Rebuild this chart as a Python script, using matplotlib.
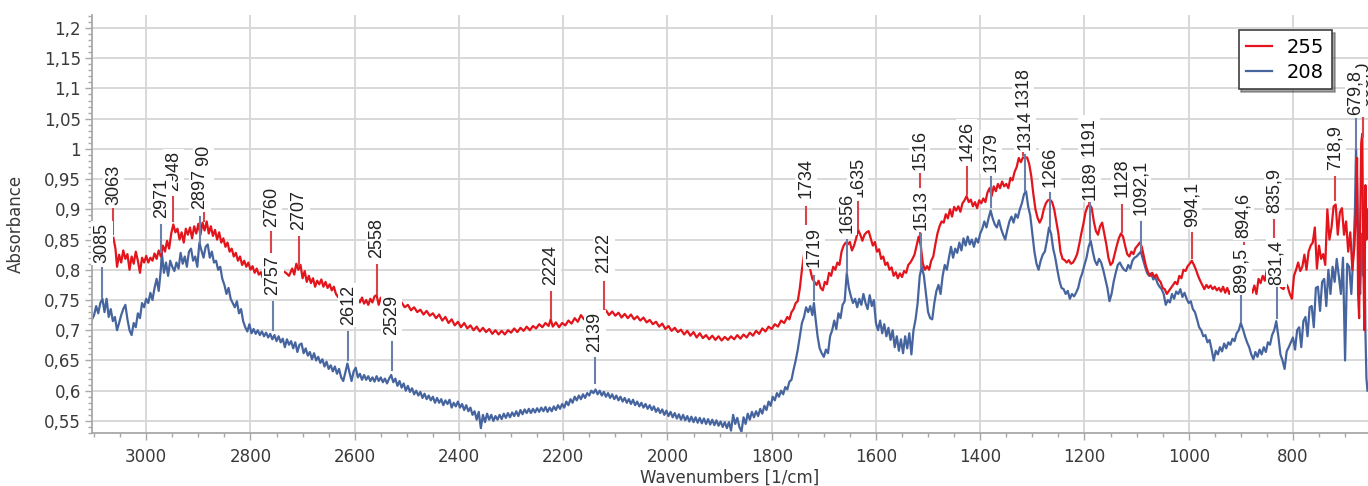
import matplotlib
matplotlib.use('Agg')
import matplotlib.pyplot as plt
from matplotlib.ticker import MultipleLocator, FuncFormatter

# =====================================
# FTIR spectra: samples 255 and 208
# =====================================

# --- sample 255 (red) ---
wn_255 = [
    3063, 3059, 3056, 3052, 3048, 3044, 3040, 3036, 3032, 3028,
    3024, 3020, 3016, 3012, 3008, 3004, 3000, 2996, 2992, 2988,
    2984, 2980, 2976, 2972, 2968, 2964, 2960, 2956, 2952, 2948,
    2944, 2940, 2936, 2932, 2928, 2924, 2920, 2916, 2912, 2908,
    2904, 2900, 2896, 2892, 2888, 2884, 2880, 2876, 2872, 2868,
    2864, 2860, 2856, 2852, 2848, 2844, 2840, 2836, 2832, 2828,
    2824, 2820, 2816, 2812, 2808, 2804, 2800, 2796, 2792, 2788,
    2784, 2780, 2776, 2772, 2768, 2764, 2760, 2756, 2750, 2744,
    2738, 2732, 2726, 2720, 2716, 2712, 2708, 2704, 2700, 2696,
    2692, 2688, 2684, 2680, 2676, 2672, 2668, 2664, 2660, 2656,
    2652, 2648, 2644, 2640, 2636, 2632, 2628, 2620, 2612, 2604,
    2598, 2594, 2590, 2586, 2582, 2578, 2574, 2570, 2566, 2562,
    2558, 2554, 2550, 2546, 2540, 2532, 2524, 2516, 2510, 2504,
    2498, 2492, 2486, 2480, 2474, 2468, 2462, 2456, 2450, 2444,
    2438, 2432, 2426, 2420, 2414, 2408, 2402, 2396, 2390, 2384,
    2378, 2372, 2366, 2360, 2354, 2348, 2342, 2336, 2330, 2324,
    2318, 2312, 2306, 2300, 2294, 2288, 2282, 2276, 2270, 2264,
    2258, 2252, 2246, 2240, 2234, 2228, 2224, 2220, 2214, 2208,
    2202, 2196, 2190, 2184, 2178, 2172, 2166, 2160, 2154, 2148,
    2142, 2136, 2130, 2124, 2118, 2112, 2106, 2100, 2094, 2088,
    2082, 2076, 2070, 2064, 2058, 2052, 2046, 2040, 2034, 2028,
    2022, 2016, 2010, 2004, 1998, 1992, 1986, 1980, 1974, 1968,
    1962, 1956, 1950, 1944, 1938, 1932, 1926, 1920, 1914, 1908,
    1902, 1896, 1890, 1884, 1878, 1872, 1866, 1860, 1854, 1848,
    1842, 1836, 1830, 1824, 1818, 1812, 1806, 1800, 1794, 1788,
    1782, 1776, 1770, 1766, 1762, 1758, 1754, 1750, 1746, 1742,
    1738, 1734, 1730, 1726, 1722, 1718, 1714, 1710, 1706, 1702,
    1698, 1694, 1690, 1686, 1682, 1678, 1674, 1670, 1666, 1662,
    1658, 1654, 1650, 1646, 1642, 1638, 1634, 1630, 1626, 1622,
    1618, 1614, 1610, 1606, 1602, 1598, 1594, 1590, 1586, 1582,
    1578, 1574, 1570, 1566, 1562, 1558, 1554, 1550, 1546, 1542,
    1538, 1534, 1530, 1526, 1522, 1518, 1514, 1510, 1506, 1502,
    1498, 1494, 1490, 1486, 1482, 1478, 1474, 1470, 1466, 1462,
    1458, 1454, 1450, 1446, 1442, 1438, 1434, 1430, 1426, 1422,
    1418, 1414, 1410, 1406, 1402, 1398, 1394, 1390, 1386, 1382,
    1378, 1374, 1370, 1366, 1362, 1358, 1354, 1350, 1346, 1342,
    1338, 1334, 1330, 1326, 1322, 1318, 1314, 1310, 1306, 1302,
    1298, 1294, 1290, 1286, 1282, 1278, 1274, 1270, 1266, 1262,
    1258, 1254, 1250, 1246, 1242, 1238, 1234, 1230, 1226, 1222,
    1218, 1214, 1210, 1206, 1202, 1198, 1194, 1190, 1186, 1182,
    1178, 1174, 1170, 1166, 1162, 1158, 1154, 1150, 1146, 1142,
    1138, 1134, 1130, 1126, 1122, 1118, 1114, 1110, 1106, 1102,
    1098, 1094, 1090, 1086, 1082, 1078, 1074, 1070, 1066, 1062,
    1058, 1054, 1050, 1046, 1042, 1038, 1034, 1030, 1026, 1022,
    1018, 1014, 1010, 1006, 1002, 998, 994, 990, 986, 982,
    978, 974, 970, 966, 962, 958, 954, 950, 946, 942,
    938, 934, 930, 926, 922, 918, 912, 904, 896, 888,
    882, 878, 874, 870, 866, 862, 858, 854, 850, 846,
    840, 832, 826, 822, 818, 814, 810, 806, 802, 798,
    794, 790, 786, 782, 778, 774, 770, 766, 762, 758,
    754, 750, 746, 742, 738, 734, 730, 726, 722, 718,
    714, 710, 706, 702, 698, 694, 690, 686, 682, 679,
    677, 675, 673, 671, 669, 667, 665, 663, 661, 659,
    657,
]
abs_255 = [
    0.853, 0.835, 0.805, 0.825, 0.812, 0.832, 0.818, 0.826, 0.800, 0.822,
    0.810, 0.830, 0.815, 0.795, 0.820, 0.812, 0.823, 0.812, 0.820, 0.815,
    0.827, 0.818, 0.832, 0.822, 0.840, 0.830, 0.848, 0.835, 0.860, 0.875,
    0.862, 0.868, 0.850, 0.862, 0.845, 0.868, 0.858, 0.870, 0.852, 0.872,
    0.860, 0.876, 0.858, 0.878, 0.865, 0.880, 0.860, 0.872, 0.856, 0.866,
    0.850, 0.862, 0.845, 0.852, 0.838, 0.845, 0.830, 0.835, 0.822, 0.828,
    0.815, 0.822, 0.808, 0.815, 0.805, 0.812, 0.800, 0.806, 0.795, 0.802,
    0.792, 0.796, 0.786, 0.794, 0.788, 0.796, 0.800, 0.790, 0.798, 0.788,
    0.798, 0.795, 0.790, 0.802, 0.792, 0.810, 0.800, 0.808, 0.786, 0.798,
    0.780, 0.790, 0.778, 0.786, 0.772, 0.782, 0.776, 0.784, 0.772, 0.780,
    0.770, 0.776, 0.766, 0.772, 0.760, 0.755, 0.765, 0.760, 0.752, 0.750,
    0.744, 0.752, 0.746, 0.754, 0.744, 0.750, 0.742, 0.752, 0.746, 0.756,
    0.758, 0.742, 0.754, 0.745, 0.750, 0.744, 0.748, 0.740, 0.746, 0.738,
    0.742, 0.733, 0.738, 0.730, 0.734, 0.726, 0.732, 0.724, 0.728, 0.720,
    0.726, 0.716, 0.722, 0.712, 0.718, 0.708, 0.714, 0.705, 0.712, 0.703,
    0.708, 0.700, 0.706, 0.698, 0.704, 0.697, 0.702, 0.694, 0.700, 0.693,
    0.699, 0.693, 0.700, 0.696, 0.703, 0.697, 0.704, 0.699, 0.706, 0.700,
    0.707, 0.703, 0.710, 0.705, 0.712, 0.707, 0.718, 0.706, 0.713, 0.705,
    0.712, 0.708, 0.716, 0.711, 0.720, 0.714, 0.725, 0.718, 0.728, 0.722,
    0.730, 0.724, 0.732, 0.726, 0.733, 0.725, 0.731, 0.724, 0.729, 0.721,
    0.727, 0.720, 0.726, 0.718, 0.723, 0.716, 0.721, 0.713, 0.717, 0.710,
    0.714, 0.706, 0.711, 0.702, 0.707, 0.699, 0.704, 0.697, 0.701, 0.693,
    0.699, 0.691, 0.697, 0.688, 0.695, 0.687, 0.692, 0.685, 0.691, 0.684,
    0.690, 0.683, 0.689, 0.684, 0.690, 0.685, 0.692, 0.686, 0.693, 0.688,
    0.696, 0.691, 0.699, 0.694, 0.703, 0.698, 0.706, 0.702, 0.710, 0.706,
    0.716, 0.712, 0.722, 0.718, 0.730, 0.735, 0.745, 0.748, 0.770, 0.800,
    0.825, 0.850, 0.830, 0.800, 0.785, 0.780, 0.775, 0.782, 0.770, 0.766,
    0.780, 0.776, 0.795, 0.790, 0.805, 0.800, 0.812, 0.808, 0.830, 0.840,
    0.845, 0.842, 0.846, 0.832, 0.840, 0.852, 0.866, 0.858, 0.848, 0.858,
    0.862, 0.864, 0.852, 0.840, 0.846, 0.830, 0.834, 0.818, 0.822, 0.808,
    0.812, 0.800, 0.804, 0.790, 0.796, 0.786, 0.794, 0.788, 0.798, 0.795,
    0.808, 0.812, 0.818, 0.825, 0.840, 0.855, 0.840, 0.810, 0.800, 0.806,
    0.800, 0.815, 0.822, 0.842, 0.860, 0.872, 0.880, 0.878, 0.892, 0.885,
    0.900, 0.888, 0.904, 0.898, 0.905, 0.896, 0.910, 0.915, 0.922, 0.912,
    0.916, 0.905, 0.912, 0.902, 0.915, 0.910, 0.918, 0.912, 0.928, 0.935,
    0.922, 0.938, 0.930, 0.942, 0.935, 0.946, 0.938, 0.942, 0.935, 0.952,
    0.948, 0.962, 0.970, 0.985, 0.978, 0.986, 0.985, 0.986, 0.975, 0.955,
    0.925, 0.900, 0.886, 0.878, 0.885, 0.900, 0.910, 0.915, 0.916, 0.912,
    0.900, 0.880, 0.860, 0.830, 0.818, 0.816, 0.812, 0.816, 0.810, 0.812,
    0.818, 0.826, 0.842, 0.860, 0.876, 0.895, 0.905, 0.908, 0.902, 0.880,
    0.864, 0.858, 0.872, 0.878, 0.860, 0.842, 0.820, 0.808, 0.812, 0.826,
    0.840, 0.852, 0.860, 0.855, 0.840, 0.826, 0.822, 0.830, 0.826, 0.836,
    0.840, 0.845, 0.838, 0.822, 0.806, 0.796, 0.790, 0.795, 0.788, 0.792,
    0.784, 0.780, 0.770, 0.768, 0.760, 0.765, 0.770, 0.775, 0.780, 0.776,
    0.790, 0.786, 0.800, 0.798, 0.806, 0.810, 0.815, 0.808, 0.800, 0.790,
    0.782, 0.775, 0.768, 0.775, 0.770, 0.774, 0.768, 0.772, 0.766, 0.770,
    0.764, 0.772, 0.762, 0.770, 0.760, 0.768, 0.762, 0.770, 0.765, 0.772,
    0.770, 0.762, 0.774, 0.760, 0.785, 0.778, 0.790, 0.782, 0.800, 0.795,
    0.790, 0.785, 0.775, 0.770, 0.768, 0.778, 0.772, 0.760, 0.752, 0.790,
    0.800, 0.812, 0.798, 0.805, 0.825, 0.800, 0.830, 0.840, 0.845, 0.870,
    0.802, 0.840, 0.818, 0.826, 0.808, 0.900, 0.850, 0.870, 0.905, 0.908,
    0.858, 0.895, 0.902, 0.858, 0.880, 0.830, 0.862, 0.800, 0.840, 0.900,
    0.985, 0.760, 0.720, 0.880, 1.010, 1.025, 0.820, 0.700, 0.940, 0.850,
    0.900,
]

# --- sample 208 (blue) ---
wn_208 = [
    3104, 3100, 3096, 3092, 3088, 3084, 3080, 3076, 3072, 3068,
    3064, 3060, 3056, 3052, 3048, 3044, 3040, 3036, 3032, 3028,
    3024, 3020, 3016, 3012, 3008, 3004, 3000, 2996, 2992, 2988,
    2984, 2980, 2976, 2972, 2970, 2966, 2962, 2958, 2954, 2950,
    2946, 2942, 2938, 2934, 2930, 2926, 2922, 2918, 2914, 2910,
    2906, 2902, 2898, 2894, 2890, 2886, 2882, 2878, 2874, 2870,
    2866, 2862, 2858, 2854, 2850, 2846, 2842, 2838, 2834, 2830,
    2826, 2822, 2818, 2814, 2810, 2806, 2802, 2798, 2794, 2790,
    2786, 2782, 2778, 2774, 2770, 2766, 2762, 2758, 2754, 2750,
    2746, 2742, 2738, 2734, 2730, 2726, 2722, 2718, 2714, 2710,
    2706, 2702, 2698, 2694, 2690, 2686, 2682, 2678, 2674, 2670,
    2666, 2662, 2658, 2654, 2650, 2646, 2642, 2638, 2634, 2630,
    2626, 2622, 2618, 2614, 2610, 2606, 2602, 2598, 2594, 2590,
    2586, 2582, 2578, 2574, 2570, 2566, 2562, 2558, 2554, 2550,
    2546, 2542, 2538, 2534, 2530, 2526, 2522, 2518, 2514, 2510,
    2506, 2502, 2498, 2494, 2490, 2486, 2482, 2478, 2474, 2470,
    2466, 2462, 2458, 2454, 2450, 2446, 2442, 2438, 2434, 2430,
    2426, 2422, 2418, 2414, 2410, 2406, 2402, 2398, 2394, 2390,
    2386, 2382, 2378, 2374, 2370, 2366, 2362, 2358, 2354, 2350,
    2346, 2342, 2338, 2334, 2330, 2326, 2322, 2318, 2314, 2310,
    2306, 2302, 2298, 2294, 2290, 2286, 2282, 2278, 2274, 2270,
    2266, 2262, 2258, 2254, 2250, 2246, 2242, 2238, 2234, 2230,
    2226, 2222, 2218, 2214, 2210, 2206, 2202, 2198, 2194, 2190,
    2186, 2182, 2178, 2174, 2170, 2166, 2162, 2158, 2154, 2150,
    2146, 2142, 2138, 2134, 2130, 2126, 2122, 2118, 2114, 2110,
    2106, 2102, 2098, 2094, 2090, 2086, 2082, 2078, 2074, 2070,
    2066, 2062, 2058, 2054, 2050, 2046, 2042, 2038, 2034, 2030,
    2026, 2022, 2018, 2014, 2010, 2006, 2002, 1998, 1994, 1990,
    1986, 1982, 1978, 1974, 1970, 1966, 1962, 1958, 1954, 1950,
    1946, 1942, 1938, 1934, 1930, 1926, 1922, 1918, 1914, 1910,
    1906, 1902, 1898, 1894, 1890, 1886, 1882, 1878, 1874, 1870,
    1866, 1862, 1858, 1854, 1850, 1846, 1842, 1838, 1834, 1830,
    1826, 1822, 1818, 1814, 1810, 1806, 1802, 1798, 1794, 1790,
    1786, 1782, 1778, 1774, 1770, 1766, 1762, 1758, 1754, 1750,
    1746, 1742, 1738, 1734, 1730, 1726, 1722, 1719, 1716, 1712,
    1708, 1704, 1700, 1696, 1692, 1688, 1684, 1680, 1676, 1672,
    1668, 1664, 1660, 1656, 1652, 1648, 1644, 1640, 1636, 1632,
    1628, 1624, 1620, 1616, 1612, 1608, 1604, 1600, 1596, 1592,
    1588, 1584, 1580, 1576, 1572, 1568, 1564, 1560, 1556, 1552,
    1548, 1544, 1540, 1536, 1532, 1528, 1524, 1520, 1516, 1512,
    1508, 1504, 1500, 1496, 1492, 1488, 1484, 1480, 1476, 1472,
    1468, 1464, 1460, 1456, 1452, 1448, 1444, 1440, 1436, 1432,
    1428, 1424, 1420, 1416, 1412, 1408, 1404, 1400, 1396, 1392,
    1388, 1384, 1380, 1376, 1372, 1368, 1364, 1360, 1356, 1352,
    1348, 1344, 1340, 1336, 1332, 1328, 1324, 1320, 1316, 1312,
    1308, 1304, 1300, 1296, 1292, 1288, 1284, 1280, 1276, 1272,
    1268, 1264, 1260, 1256, 1252, 1248, 1244, 1240, 1236, 1232,
    1228, 1224, 1220, 1216, 1212, 1208, 1204, 1200, 1196, 1192,
    1188, 1184, 1180, 1176, 1172, 1168, 1164, 1160, 1156, 1152,
    1148, 1144, 1140, 1136, 1132, 1128, 1124, 1120, 1116, 1112,
    1108, 1104, 1100, 1096, 1092, 1088, 1084, 1080, 1076, 1072,
    1068, 1064, 1060, 1056, 1052, 1048, 1044, 1040, 1036, 1032,
    1028, 1024, 1020, 1016, 1012, 1008, 1004, 1000, 996, 992,
    988, 984, 980, 976, 972, 968, 964, 960, 956, 952,
    948, 944, 940, 936, 932, 928, 924, 920, 916, 912,
    908, 904, 900, 896, 892, 888, 884, 880, 876, 872,
    868, 864, 860, 856, 852, 848, 844, 840, 836, 832,
    828, 824, 820, 816, 812, 808, 804, 800, 796, 792,
    788, 784, 780, 776, 772, 768, 764, 760, 756, 752,
    748, 744, 740, 736, 732, 728, 724, 720, 716, 712,
    708, 704, 700, 696, 692, 688, 684, 681, 679, 677,
    675, 673, 671, 669, 667, 665, 663, 661, 659, 657,
]
abs_208 = [
    0.718, 0.725, 0.740, 0.728, 0.745, 0.752, 0.730, 0.752, 0.722, 0.735,
    0.715, 0.722, 0.700, 0.712, 0.725, 0.735, 0.742, 0.718, 0.700, 0.692,
    0.712, 0.705, 0.728, 0.720, 0.745, 0.738, 0.752, 0.745, 0.762, 0.750,
    0.770, 0.785, 0.765, 0.800, 0.828, 0.795, 0.812, 0.790, 0.815, 0.805,
    0.798, 0.812, 0.802, 0.828, 0.810, 0.822, 0.805, 0.830, 0.835, 0.815,
    0.822, 0.805, 0.845, 0.832, 0.820, 0.838, 0.842, 0.820, 0.830, 0.812,
    0.815, 0.800, 0.805, 0.785, 0.775, 0.760, 0.770, 0.752, 0.745, 0.738,
    0.748, 0.728, 0.735, 0.715, 0.705, 0.698, 0.710, 0.695, 0.702, 0.694,
    0.700, 0.692, 0.698, 0.690, 0.696, 0.688, 0.694, 0.685, 0.692, 0.682,
    0.690, 0.680, 0.686, 0.672, 0.685, 0.676, 0.682, 0.670, 0.680, 0.664,
    0.676, 0.678, 0.662, 0.670, 0.658, 0.664, 0.652, 0.662, 0.650, 0.656,
    0.646, 0.652, 0.640, 0.648, 0.636, 0.642, 0.632, 0.640, 0.628, 0.636,
    0.622, 0.616, 0.630, 0.645, 0.630, 0.616, 0.632, 0.638, 0.622, 0.628,
    0.618, 0.626, 0.618, 0.624, 0.616, 0.622, 0.615, 0.624, 0.616, 0.622,
    0.614, 0.620, 0.612, 0.620, 0.626, 0.614, 0.620, 0.608, 0.616, 0.605,
    0.612, 0.600, 0.608, 0.598, 0.604, 0.594, 0.600, 0.592, 0.598, 0.588,
    0.595, 0.586, 0.592, 0.584, 0.590, 0.580, 0.588, 0.580, 0.586, 0.576,
    0.584, 0.578, 0.585, 0.572, 0.580, 0.574, 0.582, 0.572, 0.578, 0.568,
    0.576, 0.566, 0.572, 0.560, 0.566, 0.552, 0.565, 0.538, 0.560, 0.548,
    0.562, 0.552, 0.560, 0.550, 0.558, 0.552, 0.560, 0.553, 0.562, 0.555,
    0.563, 0.556, 0.564, 0.558, 0.566, 0.558, 0.568, 0.561, 0.569, 0.563,
    0.570, 0.563, 0.570, 0.564, 0.571, 0.565, 0.572, 0.566, 0.573, 0.565,
    0.572, 0.566, 0.574, 0.568, 0.576, 0.570, 0.578, 0.572, 0.582, 0.576,
    0.586, 0.580, 0.590, 0.584, 0.592, 0.586, 0.594, 0.588, 0.596, 0.592,
    0.600, 0.596, 0.602, 0.594, 0.600, 0.592, 0.598, 0.590, 0.596, 0.588,
    0.594, 0.586, 0.592, 0.584, 0.590, 0.582, 0.588, 0.580, 0.586, 0.578,
    0.585, 0.576, 0.582, 0.574, 0.580, 0.572, 0.578, 0.570, 0.576, 0.568,
    0.574, 0.565, 0.571, 0.563, 0.569, 0.560, 0.567, 0.558, 0.565, 0.556,
    0.563, 0.554, 0.561, 0.552, 0.560, 0.551, 0.558, 0.549, 0.557, 0.548,
    0.556, 0.547, 0.555, 0.546, 0.554, 0.545, 0.553, 0.544, 0.552, 0.543,
    0.551, 0.542, 0.549, 0.540, 0.548, 0.538, 0.548, 0.534, 0.560, 0.545,
    0.555, 0.540, 0.532, 0.556, 0.545, 0.562, 0.552, 0.565, 0.556, 0.566,
    0.558, 0.570, 0.562, 0.575, 0.568, 0.582, 0.575, 0.590, 0.584, 0.596,
    0.590, 0.600, 0.594, 0.606, 0.602, 0.615, 0.618, 0.635, 0.650, 0.668,
    0.690, 0.712, 0.722, 0.738, 0.730, 0.740, 0.725, 0.745, 0.720, 0.690,
    0.670, 0.662, 0.656, 0.668, 0.662, 0.690, 0.700, 0.716, 0.702, 0.728,
    0.720, 0.742, 0.748, 0.795, 0.770, 0.756, 0.745, 0.752, 0.738, 0.752,
    0.742, 0.760, 0.745, 0.735, 0.758, 0.740, 0.750, 0.712, 0.700, 0.716,
    0.695, 0.710, 0.690, 0.704, 0.684, 0.700, 0.672, 0.690, 0.666, 0.685,
    0.662, 0.690, 0.670, 0.695, 0.660, 0.700, 0.718, 0.745, 0.790, 0.805,
    0.790, 0.760, 0.730, 0.720, 0.718, 0.745, 0.765, 0.775, 0.760, 0.790,
    0.808, 0.800, 0.820, 0.838, 0.820, 0.835, 0.828, 0.845, 0.832, 0.852,
    0.840, 0.855, 0.842, 0.850, 0.838, 0.852, 0.845, 0.860, 0.868, 0.880,
    0.870, 0.885, 0.898, 0.885, 0.875, 0.870, 0.882, 0.868, 0.858, 0.850,
    0.866, 0.880, 0.888, 0.878, 0.892, 0.886, 0.900, 0.910, 0.925, 0.930,
    0.905, 0.890, 0.860, 0.830, 0.810, 0.800, 0.815, 0.825, 0.830, 0.848,
    0.870, 0.860, 0.835, 0.820, 0.800, 0.782, 0.770, 0.768, 0.760, 0.765,
    0.752, 0.760, 0.756, 0.762, 0.770, 0.785, 0.795, 0.808, 0.820, 0.838,
    0.848, 0.830, 0.815, 0.808, 0.818, 0.812, 0.800, 0.785, 0.770, 0.748,
    0.760, 0.780, 0.795, 0.808, 0.812, 0.805, 0.800, 0.798, 0.808, 0.802,
    0.815, 0.820, 0.822, 0.826, 0.830, 0.818, 0.806, 0.795, 0.790, 0.794,
    0.784, 0.788, 0.778, 0.772, 0.768, 0.760, 0.742, 0.750, 0.746, 0.760,
    0.752, 0.764, 0.760, 0.768, 0.755, 0.762, 0.752, 0.745, 0.748, 0.735,
    0.730, 0.718, 0.705, 0.700, 0.690, 0.692, 0.680, 0.684, 0.668, 0.650,
    0.666, 0.660, 0.672, 0.665, 0.678, 0.670, 0.680, 0.676, 0.686, 0.682,
    0.695, 0.700, 0.712, 0.702, 0.690, 0.680, 0.672, 0.660, 0.652, 0.664,
    0.656, 0.668, 0.660, 0.672, 0.664, 0.680, 0.676, 0.692, 0.700, 0.715,
    0.690, 0.660, 0.650, 0.636, 0.665, 0.672, 0.680, 0.688, 0.668, 0.700,
    0.705, 0.672, 0.715, 0.722, 0.690, 0.738, 0.740, 0.705, 0.770, 0.772,
    0.732, 0.780, 0.785, 0.740, 0.800, 0.760, 0.805, 0.780, 0.818, 0.790,
    0.760, 0.820, 0.650, 0.810, 0.805, 0.760, 0.830, 0.900, 1.000, 0.950,
    0.860, 0.780, 0.760, 0.820, 0.860, 0.790, 0.860, 0.700, 0.620, 0.600,
]

# --- peak picks (wavenumber, label, marker line bottom/top, label bottom) ---
pk255_x = [3063, 2948, 2890, 2760, 2707, 2558, 2224, 2122, 1734, 1635,
           1516, 1426, 1318, 1191, 1128, 994.1, 894.6, 835.9, 718.9, 665.0]
pk255_txt = ["3063", "2948", "2890", "2760", "2707", "2558", "2224", "2122",
             "1734", "1635", "1516", "1426", "1318", "1191", "1128", "994,1",
             "894,6", "835,9", "718,9", "665,0"]
pk255_lo = [0.860, 0.880, 0.880, 0.800, 0.808, 0.760, 0.720, 0.730, 0.852, 0.868,
            0.857, 0.925, 0.990, 0.910, 0.862, 0.820, 0.770, 0.800, 0.915, 1.020]
pk255_hi = [0.900, 0.920, 0.935, 0.863, 0.855, 0.808, 0.763, 0.780, 0.904, 0.912,
            0.958, 0.970, 1.060, 0.980, 0.907, 0.861, 0.845, 0.882, 0.953, 1.060]
pk255_lab = [0.907, 0.930, 0.940, 0.871, 0.866, 0.820, 0.775, 0.795, 0.919, 0.920,
             0.965, 0.980, 1.070, 0.988, 0.920, 0.871, 0.853, 0.894, 0.965, 1.070]

pk208_x = [3085, 2971, 2897, 2757, 2612, 2529, 2139, 1719, 1656, 1513,
           1379, 1314, 1266, 1189, 1092.1, 899.5, 831.4, 679.8]
pk208_txt = ["3085", "2971", "2897", "2757", "2612", "2529", "2139", "1719",
             "1656", "1513", "1379", "1314", "1266", "1189", "1092,1", "899,5",
             "831,4", "679,8"]
pk208_lo = [0.755, 0.830, 0.845, 0.700, 0.650, 0.634, 0.613, 0.750, 0.795,
            0.805, 0.904, 0.930, 0.870, 0.850, 0.832, 0.715, 0.720, 1.000]
pk208_hi = [0.803, 0.874, 0.887, 0.747, 0.697, 0.680, 0.654, 0.790, 0.850,
            0.860, 0.953, 0.990, 0.927, 0.910, 0.879, 0.757, 0.770, 1.050]
pk208_lab = [0.811, 0.886, 0.900, 0.758, 0.709, 0.692, 0.664, 0.805, 0.861,
             0.866, 0.962, 0.998, 0.937, 0.915, 0.891, 0.762, 0.775, 1.056]

# =====================================
# Plot
# =====================================
RED = '#e3141b'
BLUE = '#46659f'
RED_TICK = '#d9444c'
BLUE_TICK = '#6a80ab'
GRID = '#d6d6d6'
AXIS = '#a8a8a8'
TXT = '#3a3a3a'

fig = plt.figure(figsize=(13.68, 4.86), dpi=100)
ax = fig.add_axes([92 / 1368, 53 / 486, 1276 / 1368, 418 / 486])

ax.plot(wn_255, abs_255, color=RED, lw=1.6, label='255', zorder=3)
ax.plot(wn_208, abs_208, color=BLUE, lw=1.6, label='208', zorder=2)

label_box = dict(boxstyle='square,pad=0.12', fc='white', ec='none')

# red peak picks first, blue ones on top (as in the original)
for x, t, lo, hi, ly in zip(pk255_x, pk255_txt, pk255_lo, pk255_hi, pk255_lab):
    ax.plot([x, x], [lo, hi], color=RED_TICK, lw=1.5, zorder=4)
    ax.text(x, ly, t, rotation=90, ha='center', va='bottom', fontsize=13,
            family='Liberation Sans', color='#222222', bbox=label_box, zorder=5)

for x, t, lo, hi, ly in zip(pk208_x, pk208_txt, pk208_lo, pk208_hi, pk208_lab):
    ax.plot([x, x], [lo, hi], color=BLUE_TICK, lw=1.5, zorder=6)
    ax.text(x, ly, t, rotation=90, ha='center', va='bottom', fontsize=13,
            family='Liberation Sans', color='#222222', bbox=label_box, zorder=7)

# axes, ticks, grid
ax.set_xlim(3104, 656)
ax.set_ylim(0.530, 1.2215)
ax.xaxis.set_major_locator(MultipleLocator(200))
ax.xaxis.set_minor_locator(MultipleLocator(50))
ax.yaxis.set_major_locator(MultipleLocator(0.05))
ax.yaxis.set_minor_locator(MultipleLocator(0.01))


def comma_fmt(v, pos):
    s = f"{v:.2f}".rstrip('0').rstrip('.')
    return s.replace('.', ',')


ax.yaxis.set_major_formatter(FuncFormatter(comma_fmt))
ax.grid(True, which='major', color=GRID, lw=1.3, zorder=0)
ax.set_axisbelow(True)

for side in ['top', 'right']:
    ax.spines[side].set_visible(False)
for side in ['left', 'bottom']:
    ax.spines[side].set_color(AXIS)
    ax.spines[side].set_linewidth(1.3)

ax.tick_params(axis='both', which='major', length=5, width=1, color=AXIS,
               labelsize=12, labelcolor=TXT)
ax.tick_params(axis='both', which='minor', length=3, width=1, color=AXIS)
ax.tick_params(axis='x', which='major', pad=6)
ax.tick_params(axis='y', which='major', pad=3)

ax.set_xlabel('Wavenumbers [1/cm]', fontsize=12, color=TXT, labelpad=2)
ax.set_ylabel('Absorbance', fontsize=12, color=TXT)
ax.yaxis.set_label_coords(-0.0525, 0.5)

leg = ax.legend(loc='upper right', bbox_to_anchor=(0.972, 0.964),
                borderaxespad=0, fontsize=14, handlelength=1.3,
                fancybox=False, shadow=True, framealpha=1,
                edgecolor='#404040', borderpad=0.4, labelspacing=0.3)
leg.get_frame().set_linewidth(1.2)
leg.set_zorder(10)

plt.savefig('out.png', dpi=100)
